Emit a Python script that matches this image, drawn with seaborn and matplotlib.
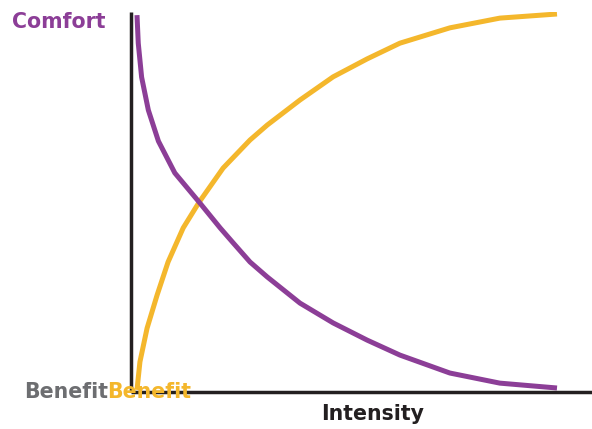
import matplotlib
matplotlib.use("Agg")
import matplotlib.pyplot as plt
import seaborn as sns
import pandas as pd

# Data (intensity 0..1, value 0..1)
comfort_x = [0.000, 0.003, 0.011, 0.027, 0.051, 0.090, 0.148, 0.198, 0.229, 0.269,
             0.310, 0.388, 0.467, 0.548, 0.626, 0.745, 0.864, 1.000]
comfort_y = [0.997, 0.922, 0.831, 0.743, 0.660, 0.575, 0.497, 0.428, 0.388, 0.337,
             0.297, 0.227, 0.174, 0.128, 0.088, 0.040, 0.013, 0.000]
benefit_x = [0.000, 0.007, 0.024, 0.048, 0.074, 0.110, 0.148, 0.205, 0.269, 0.310,
             0.388, 0.467, 0.548, 0.626, 0.745, 0.864, 1.000]
benefit_y = [-0.005, 0.070, 0.160, 0.249, 0.337, 0.428, 0.497, 0.588, 0.663, 0.703,
             0.770, 0.832, 0.880, 0.922, 0.963, 0.989, 1.000]

PURPLE = "#8C3E97"
YELLOW = "#F4B72C"
GRAY = "#6D6E71"
DARK = "#231F20"

sns.set_theme(style="white")
plt.rcParams["font.family"] = ["DejaVu Sans"]

fig = plt.figure(figsize=(5.92, 4.29), dpi=100)
ax = fig.add_axes([131 / 592, 1 - 392 / 429, 461 / 592, 380 / 429])

df_c = pd.DataFrame({"x": comfort_x, "y": comfort_y})
df_b = pd.DataFrame({"x": benefit_x, "y": benefit_y})
sns.lineplot(data=df_b, x="x", y="y", ax=ax, color=YELLOW, lw=3.6, sort=False,
             solid_capstyle="butt", solid_joinstyle="round")
sns.lineplot(data=df_c, x="x", y="y", ax=ax, color=PURPLE, lw=3.6, sort=False,
             solid_capstyle="butt", solid_joinstyle="round")

ax.set_xlim(-6 / 420, 455 / 420)
ax.set_ylim(-4 / 374, 1 + 2 / 374)
ax.set_xticks([])
ax.set_yticks([])
ax.set_xlabel("")
ax.set_ylabel("")
for s in ["top", "right"]:
    ax.spines[s].set_visible(False)
for s in ["left", "bottom"]:
    ax.spines[s].set_color(DARK)
    ax.spines[s].set_linewidth(2.5)
    ax.spines[s].set_capstyle("butt")

fs = 14.8
fig.text(12 / 592, 1 - 27.5 / 429, "Comfort", color=PURPLE, fontsize=fs,
         fontweight="bold", ha="left", va="baseline")
fig.text(24 / 592, 1 - 398 / 429, "Benefit", color=GRAY, fontsize=fs,
         fontweight="bold", ha="left", va="baseline")
fig.text(107.5 / 592, 1 - 398 / 429, "Benefit", color=YELLOW, fontsize=fs,
         fontweight="bold", ha="left", va="baseline")
fig.text(321 / 592, 1 - 420 / 429, "Intensity", color=DARK, fontsize=fs,
         fontweight="bold", ha="left", va="baseline")

fig.savefig("out.png", dpi=100)
